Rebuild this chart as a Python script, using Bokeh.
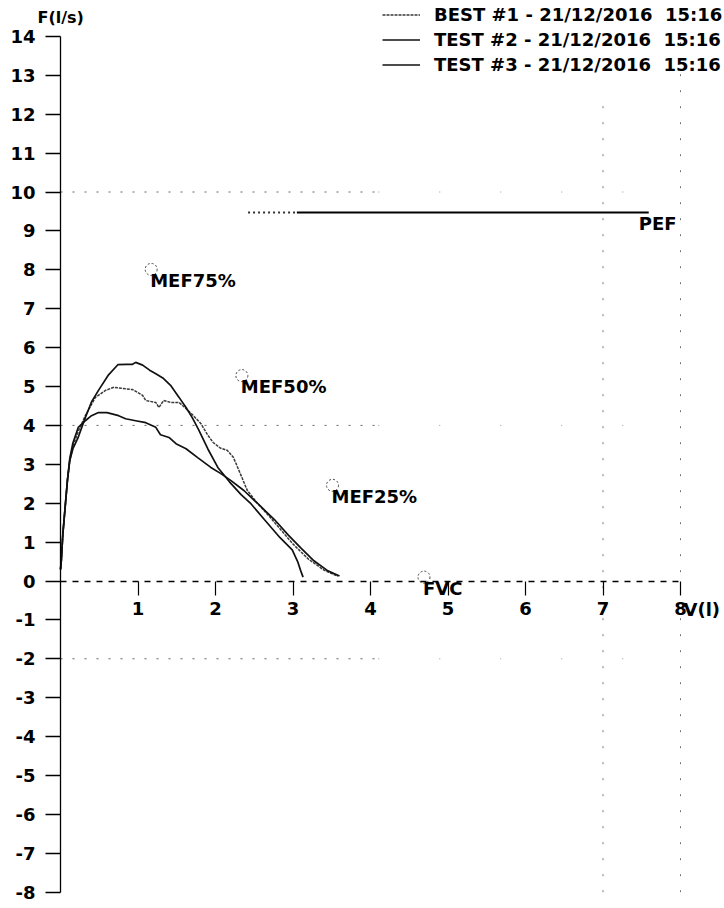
from bokeh.plotting import figure
from bokeh.models import Range1d, FixedTicker, Legend, LegendItem
from bokeh.core.properties import value
from bokeh.embed import file_html
from bokeh.resources import INLINE

# ---------------- data ----------------
volume_ticks = [1, 2, 3, 4, 5, 6, 7, 8]
flow_ticks = list(range(-8, 15))

best1_v = [0.0, 0.01, 0.03, 0.06, 0.09, 0.12, 0.16, 0.23, 0.32, 0.45, 0.58, 0.69, 0.80,
           0.93, 1.06, 1.10, 1.23, 1.27, 1.33, 1.42, 1.53, 1.62, 1.70, 1.81, 1.90, 1.97,
           2.06, 2.15, 2.23, 2.32, 2.41, 2.54, 2.70, 2.85, 3.00, 3.20, 3.40, 3.58]
best1_f = [0.3, 0.5, 1.2, 1.9, 2.6, 3.1, 3.45, 3.85, 4.25, 4.72, 4.90, 4.98, 4.95,
           4.92, 4.77, 4.64, 4.59, 4.46, 4.64, 4.59, 4.59, 4.43, 4.28, 4.05, 3.75, 3.56,
           3.42, 3.36, 3.18, 2.76, 2.33, 2.00, 1.65, 1.30, 0.95, 0.56, 0.28, 0.12]

test2_v = [0.0, 0.01, 0.03, 0.06, 0.09, 0.12, 0.16, 0.23, 0.32, 0.40, 0.49, 0.62, 0.74,
           0.85, 0.93, 0.97, 1.06, 1.15, 1.23, 1.32, 1.42, 1.53, 1.62, 1.70, 1.78, 1.90,
           2.03, 2.18, 2.33, 2.46, 2.63, 2.83, 2.99, 3.06, 3.10, 3.13]
test2_f = [0.3, 0.5, 1.2, 1.9, 2.6, 3.1, 3.4, 3.7, 4.2, 4.6, 4.9, 5.3, 5.56,
           5.57, 5.57, 5.62, 5.55, 5.42, 5.33, 5.22, 5.03, 4.72, 4.46, 4.20, 3.90, 3.40,
           2.92, 2.55, 2.22, 1.98, 1.58, 1.12, 0.80, 0.50, 0.26, 0.10]

test3_v = [0.0, 0.01, 0.03, 0.06, 0.09, 0.12, 0.16, 0.23, 0.32, 0.40, 0.49, 0.60, 0.75,
           0.84, 0.97, 1.10, 1.23, 1.29, 1.40, 1.49, 1.62, 1.77, 1.94, 2.07, 2.20, 2.37,
           2.55, 2.76, 2.94, 3.10, 3.27, 3.45, 3.60]
test3_f = [0.3, 0.5, 1.2, 1.9, 2.6, 3.15, 3.55, 3.95, 4.12, 4.25, 4.33, 4.33, 4.25,
           4.17, 4.12, 4.07, 3.95, 3.76, 3.69, 3.53, 3.40, 3.17, 2.92, 2.76, 2.58, 2.32,
           1.98, 1.58, 1.18, 0.85, 0.52, 0.26, 0.13]

pred_names = ["MEF75%", "MEF50%", "MEF25%", "FVC"]
pred_v = [1.17, 2.34, 3.51, 4.69]
pred_f = [8.01, 5.28, 2.46, 0.10]

pef_name = "PEF"
pef_pred = 9.47
pef_v = [2.42, 3.05, 7.59]   # faint start, solid start, end

grid_flow = [10, 4, -2]
grid_volume = [7, 8]

legend_labels = ["BEST #1 - 21/12/2016  15:16",
                 "TEST #2 - 21/12/2016  15:16",
                 "TEST #3 - 21/12/2016  15:16"]

x_axis_name = "V(l)"
y_axis_name = "F(l/s)"

# ---------------- figure ----------------
FONT = "DejaVu Sans"
PX_X = 77.5
PX_Y = 38.9
X0 = 60.0     # pixel of volume 0
Y0 = 580.5    # pixel of flow 0
W, H = 724, 908

p = figure(width=W, height=H,
           x_range=Range1d(-X0 / PX_X, (W - X0) / PX_X),
           y_range=Range1d(-(H - Y0) / PX_Y, Y0 / PX_Y),
           output_backend="svg", toolbar_location=None, title=None,
           min_border_left=0, min_border_right=0, min_border_top=0, min_border_bottom=0)
p.grid.visible = False
p.outline_line_color = None
p.background_fill_color = "white"
p.border_fill_color = "white"

# y axis at volume = 0
ya = p.yaxis[0]
ya.fixed_location = 0
ya.ticker = FixedTicker(ticks=flow_ticks)
ya.major_label_overrides = {t: str(t) for t in flow_ticks}
ya.bounds = (-8, 14)
ya.axis_line_width = 1.3
ya.axis_line_color = "black"
ya.major_tick_out = 15
ya.major_tick_in = 0
ya.major_tick_line_width = 1.6
ya.minor_tick_line_color = None
ya.major_label_standoff = 10
ya.major_label_text_font = FONT
ya.major_label_text_font_style = "bold"
ya.major_label_text_font_size = "18px"
ya.major_label_text_color = "black"

# x axis at flow = 0
xa = p.xaxis[0]
xa.fixed_location = 0
xa.ticker = FixedTicker(ticks=volume_ticks)
xa.bounds = (0, 8)
xa.axis_line_dash = "6 6"
xa.axis_line_width = 1.5
xa.major_tick_out = 14
xa.major_tick_in = 0
xa.major_tick_line_width = 1.2
xa.minor_tick_line_color = None
xa.major_label_standoff = 7
xa.major_label_text_font = FONT
xa.major_label_text_font_style = "bold"
xa.major_label_text_font_size = "18px"
xa.major_label_text_color = "black"

# faint dotted grid
n = len(grid_flow)
p.segment(x0=[0] * n, y0=grid_flow, x1=[4.1] * n, y1=grid_flow,
          line_color="#666666", line_width=1, line_dash="2 10")
p.segment(x0=[4.1] * n, y0=grid_flow, x1=[8] * n, y1=grid_flow,
          line_color="#999999", line_width=1, line_dash="1 60")
p.segment(x0=grid_volume, y0=[-8] * len(grid_volume), x1=grid_volume, y1=[12.3, 14],
          line_color="#777777", line_width=1, line_dash="2 14")

# curves
r_best = p.line(best1_v, best1_f, line_color="#3a3a3a", line_width=1.5, line_dash="3 1")
r_t2 = p.line(test2_v, test2_f, line_color="#111111", line_width=1.7)
r_t3 = p.line(test3_v, test3_f, line_color="#111111", line_width=1.7)

# PEF predicted
p.line(pef_v[0:2], [pef_pred, pef_pred], line_color="#333333", line_width=2, line_dash="2 3")
p.line(pef_v[1:3], [pef_pred, pef_pred], line_color="black", line_width=2)
p.text(x=[pef_v[2]], y=[pef_pred], text=[pef_name], x_offset=-10, y_offset=11,
       text_align="left", text_baseline="middle", text_font=value(FONT),
       text_font_style="bold", text_font_size="18px", text_color="black")

# predicted markers
p.scatter(pred_v, pred_f, marker="circle", size=12, fill_color=None,
          line_color="#444444", line_width=1, line_dash="2 2")
p.text(x=pred_v, y=pred_f, text=pred_names, x_offset=-1, y_offset=11,
       text_align="left", text_baseline="middle", text_font=value(FONT),
       text_font_style="bold", text_font_size="18px", text_color="black")

# axis names
p.text(x=[8], y=[0], text=[x_axis_name], x_offset=3, y_offset=28,
       text_align="left", text_baseline="middle", text_font=value(FONT),
       text_font_style="bold", text_font_size="18px", text_color="black")
p.text(x=[0], y=[14], text=[y_axis_name], x_offset=-23, y_offset=-19,
       text_align="left", text_baseline="middle", text_font=value(FONT),
       text_font_style="bold", text_font_size="16px", text_color="black")

# legend
legend = Legend(items=[LegendItem(label=legend_labels[0], renderers=[r_best]),
                       LegendItem(label=legend_labels[1], renderers=[r_t2]),
                       LegendItem(label=legend_labels[2], renderers=[r_t3])],
                location=(382, 833), border_line_color=None, background_fill_alpha=0,
                padding=0, margin=0, spacing=4, glyph_width=38, glyph_height=21,
                label_height=21, label_standoff=14, label_text_font=FONT,
                label_text_font_style="bold", label_text_font_size="18px",
                label_text_color="black")
p.add_layout(legend)

open("out.html", "w").write(file_html(p, INLINE))
